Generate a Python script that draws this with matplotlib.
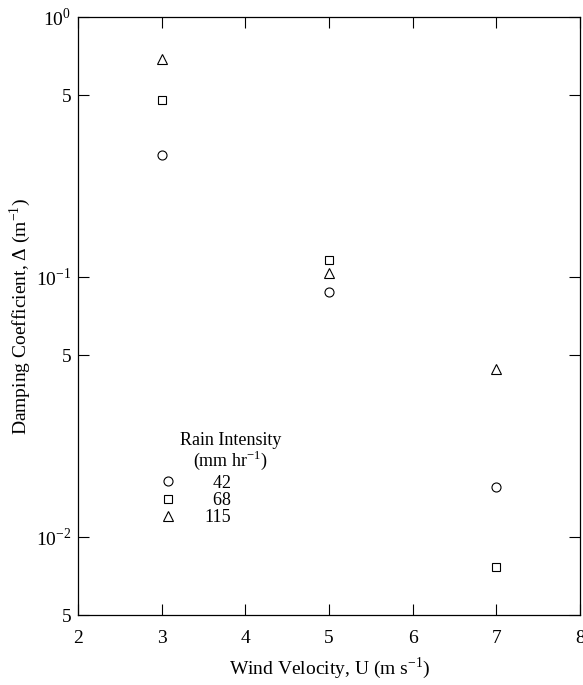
import matplotlib.pyplot as plt
from matplotlib.ticker import FixedLocator, NullLocator

plt.rcParams['font.family'] = ['Liberation Serif', 'DejaVu Serif']
plt.rcParams['mathtext.fontset'] = 'custom'
plt.rcParams['mathtext.rm'] = 'Liberation Serif'

wind = [3, 5, 7]
rain_labels = ['\u200742', '\u200768', '115']
damp_42 = [0.296, 0.0875, 0.0156]
damp_68 = [0.479, 0.1163, 0.00766]
damp_115 = [0.689, 0.1036, 0.0441]

y_ticks = [0.005, 0.01, 0.05, 0.1, 0.5, 1.0]
y_tick_labels = ['5', '10$^{-2}$', '5', '10$^{-1}$', '5', '10$^{0}$']
x_ticks = [2, 3, 4, 5, 6, 7, 8]

fig = plt.figure(figsize=(5.83, 6.85), dpi=100)
ax = fig.add_axes([0.134, 0.102, 0.861, 0.873])

style = dict(linestyle='none', markerfacecolor='white', markeredgecolor='black',
             markeredgewidth=0.8, markersize=6.5)
ax.plot(wind, damp_42, marker='o', label=rain_labels[0], **style)
ax.plot(wind, damp_68, marker='s', label=rain_labels[1], **dict(style, markersize=6))
ax.plot(wind, damp_115, marker='^', label=rain_labels[2], **style)

ax.set_yscale('log')
ax.set_xlim(2, 8)
ax.set_ylim(0.005, 1.0)
ax.yaxis.set_major_locator(FixedLocator(y_ticks))
ax.yaxis.set_minor_locator(NullLocator())
ax.set_yticklabels(y_tick_labels)
ax.set_xticks(x_ticks)

ax.tick_params(direction='in', length=8, width=0.8, top=True, right=True,
               labelsize=14)
ax.tick_params(axis='x', pad=11)
ax.tick_params(axis='y', pad=5)
for s in ax.spines.values():
    s.set_linewidth(0.9)

ax.set_xlabel('Wind Velocity, U (m s$^{-1}$)', fontsize=14, labelpad=6)
ax.set_ylabel('Damping Coefficient, Δ (m$^{-1}$)', fontsize=14, labelpad=2)

# legend title drawn as text, offset right of the markers like the original
ax.text(0.303, 0.292, 'Rain Intensity', transform=ax.transAxes,
        ha='center', va='center', fontsize=13)
ax.text(0.303, 0.258, '(mm hr$^{-1}$)', transform=ax.transAxes,
        ha='center', va='center', fontsize=13)

ax.legend(frameon=False, loc='upper left', bbox_to_anchor=(0.161, 0.235),
          fontsize=13, handletextpad=1.5, labelspacing=0.02,
          handlelength=1.0, borderpad=0, borderaxespad=0)

fig.savefig('out.png', dpi=100)
